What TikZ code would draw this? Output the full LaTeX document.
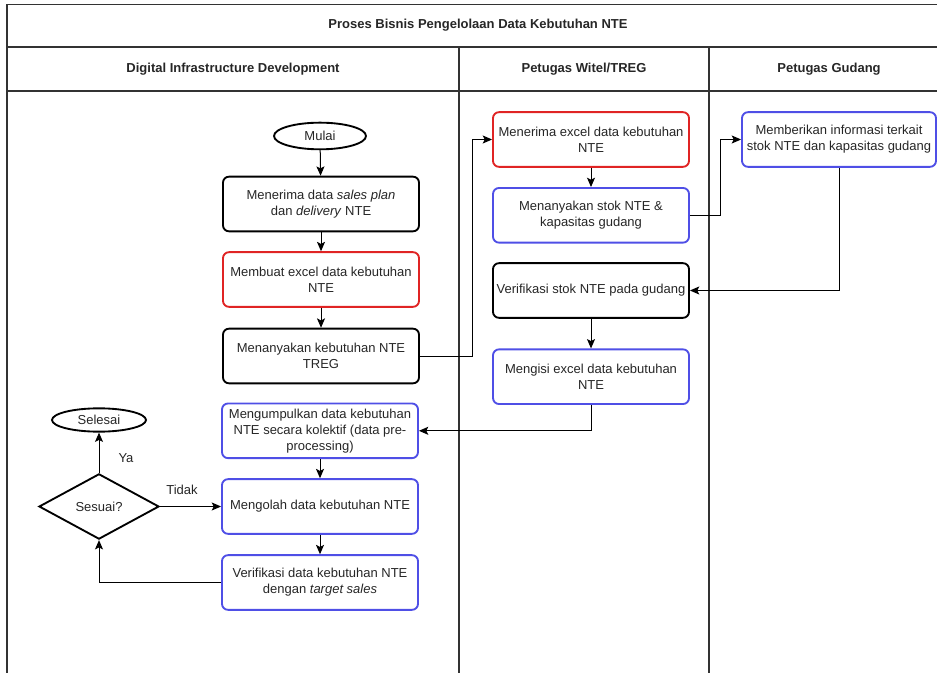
\documentclass[tikz,border=0pt]{standalone}
\usepackage{fontspec}
\setmainfont{Liberation Sans}
\usetikzlibrary{shapes.geometric,arrows.meta}
\definecolor{lanegray}{HTML}{333333}
\definecolor{boxred}{HTML}{E02424}
\definecolor{boxblue}{HTML}{4F4FE6}
\definecolor{txt}{HTML}{262626}

\begin{document}
\begin{tikzpicture}[x=0.75pt,y=-0.75pt,
  font=\fontsize{9.75}{12}\selectfont, text=txt,
  lane/.style={draw=lanegray,line width=1pt},
  proc/.style={draw=black,line width=1.4pt,rounded corners=4.5pt,
    minimum width=147pt,minimum height=41pt,align=center,inner sep=1pt},
  redbox/.style={proc,draw=boxred},
  bluebox/.style={proc,draw=boxblue},
  term/.style={ellipse,draw=black,line width=1.4pt,inner sep=0pt},
  decision/.style={diamond,draw=black,line width=1.4pt,inner sep=0pt,
    minimum width=90pt,minimum height=49pt,aspect=1.85},
  flow/.style={draw=black,line width=0.75pt,-{Stealth[length=7pt,width=6pt,inset=1.5pt]}},
  head/.style={font=\fontsize{9.75}{12}\selectfont\bfseries}
]
\useasboundingbox (0,0) rectangle (937,673);

% swimlane frame
\draw[lane] (7,673) -- (7,4.5) -- (937,4.5);
\draw[lane] (7,47) -- (937,47);
\draw[lane] (7,91) -- (937,91);
\draw[lane] (459,47) -- (459,673);
\draw[lane] (709,47) -- (709,673);

\node[head] (title) at (478,25) {Proses Bisnis Pengelolaan Data Kebutuhan NTE};
\node[head] (laneA) at (233,69) {Digital Infrastructure Development};
\node[head] (laneB) at (584,69) {Petugas Witel/TREG};
\node[head] (laneC) at (829,69) {Petugas Gudang};

% Digital Infrastructure Development
\node[term,minimum width=69pt,minimum height=20pt] (mulai) at (320,136) {Mulai};
\node[proc] (b1) at (321,204) {Menerima data \textit{sales plan}\\dan \textit{delivery} NTE};
\node[redbox] (b2) at (321,279.5) {Membuat excel data kebutuhan\\NTE};
\node[proc] (b3) at (321,356) {Menanyakan kebutuhan NTE\\TREG};
\node[bluebox] (d1) at (320,430.8) {Mengumpulkan data kebutuhan\\NTE secara kolektif (data pre-\\processing)};
\node[bluebox] (d2) at (320,506.5) {Mengolah data kebutuhan NTE};
\node[bluebox] (d3) at (320,582.5) {Verifikasi data kebutuhan NTE\\dengan \textit{target sales}};
\node[decision] (sesuai) at (99,506.5) {Sesuai?};
\node[term,minimum width=70.5pt,minimum height=17.5pt] (selesai) at (99,420) {Selesai};

% Petugas Witel/TREG
\node[redbox] (w1) at (591,139.5) {Menerima excel data kebutuhan\\NTE};
\node[bluebox] (w2) at (591,215.3) {Menanyakan stok NTE \&\\kapasitas gudang};
\node[proc] (w3) at (591,290.5) {Verifikasi stok NTE pada gudang};
\node[bluebox] (w4) at (591,376.7) {Mengisi excel data kebutuhan\\NTE};

% Petugas Gudang
\node[bluebox,minimum width=145.5pt] (g1) at (839,139.5) {Memberikan informasi terkait\\stok NTE dan kapasitas gudang};

% connectors
\draw[flow] (mulai) -- (b1);
\draw[flow] (b1) -- (b2);
\draw[flow] (b2) -- (b3);
\draw[flow] (b3.east) -- ++(53,0) |- (w1.west);
\draw[flow] (w1) -- (w2);
\draw[flow] (w2.east) -- ++(31,0) |- (g1.west);
\draw[flow] (g1.south) |- (w3.east);
\draw[flow] (w3) -- (w4);
\draw[flow] (w4.south) |- (d1.east);
\draw[flow] (d1) -- (d2);
\draw[flow] (d2) -- (d3);
\draw[flow] (d3.west) -| (sesuai.south);
\draw[flow] (sesuai.east) -- (d2.west);
\draw[flow] (sesuai.north) -- (selesai.south);

\node (ya) at (126,458) {Ya};
\node (tidak) at (182,490) {Tidak};
\end{tikzpicture}
\end{document}
